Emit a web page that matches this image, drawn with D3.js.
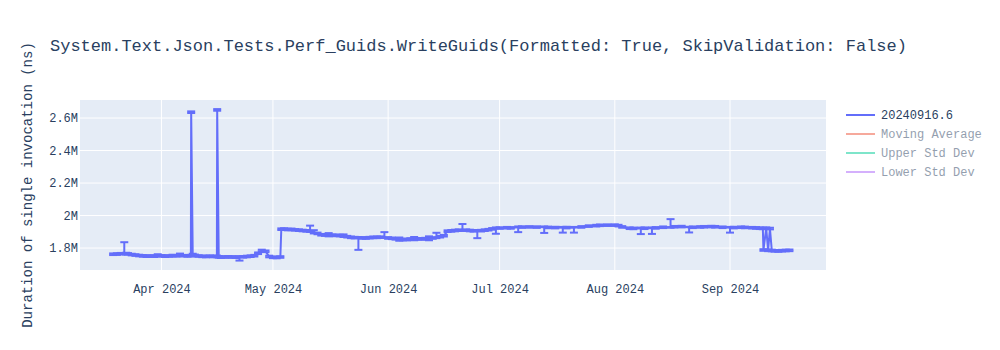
<!DOCTYPE html>
<html lang=en>
<head>
<meta charset="utf-8">
<script src="https://d3js.org/d3.v7.min.js"></script>
<style>
  body { margin: 0; background: #fff; }
  #chart { width: 1000px; height: 350px; }
  text { font-family: "Courier New", "Nimbus Mono PS", FreeMono, "Liberation Mono", monospace; fill: #2a3f5f; }
</style>
</head>
<body>
<div id="chart"></div>
<script>
// build dates, one run per entry
var runDates = [
  "2024-03-19","2024-03-20","2024-03-21","2024-03-22","2024-03-22T12:00","2024-03-23","2024-03-24","2024-03-25","2024-03-26","2024-03-27",
  "2024-03-28","2024-03-29","2024-03-30","2024-03-31","2024-04-01","2024-04-02","2024-04-03","2024-04-04","2024-04-05","2024-04-06",
  "2024-04-07","2024-04-08","2024-04-08T22:00","2024-04-09T00:00","2024-04-09T10:00","2024-04-10","2024-04-11","2024-04-12","2024-04-13","2024-04-14",
  "2024-04-15","2024-04-15T22:00","2024-04-16T00:00","2024-04-16T10:00","2024-04-17","2024-04-18","2024-04-19","2024-04-20","2024-04-21","2024-04-22",
  "2024-04-23","2024-04-24","2024-04-25","2024-04-26","2024-04-27","2024-04-28","2024-04-29","2024-04-30","2024-05-01","2024-05-02",
  "2024-05-03T00:00","2024-05-03T06:00","2024-05-04","2024-05-05","2024-05-06","2024-05-07","2024-05-08","2024-05-09","2024-05-10","2024-05-11",
  "2024-05-12","2024-05-13","2024-05-14","2024-05-15","2024-05-16","2024-05-17","2024-05-18","2024-05-19","2024-05-20","2024-05-21",
  "2024-05-22","2024-05-23","2024-05-24","2024-05-25","2024-05-26","2024-05-27","2024-05-28","2024-05-29","2024-05-30","2024-05-31",
  "2024-06-01","2024-06-02","2024-06-03","2024-06-04","2024-06-05","2024-06-06","2024-06-07","2024-06-08","2024-06-09","2024-06-10",
  "2024-06-11","2024-06-12","2024-06-13","2024-06-14","2024-06-15","2024-06-16","2024-06-17","2024-06-18","2024-06-19","2024-06-20",
  "2024-06-21","2024-06-22","2024-06-23","2024-06-24","2024-06-25","2024-06-26","2024-06-27","2024-06-28","2024-06-29","2024-06-30",
  "2024-07-01","2024-07-03","2024-07-04","2024-07-06","2024-07-07","2024-07-09","2024-07-11","2024-07-13","2024-07-14","2024-07-16",
  "2024-07-18","2024-07-19","2024-07-21","2024-07-23","2024-07-25","2024-07-27","2024-07-28","2024-07-30","2024-08-01","2024-08-02",
  "2024-08-03","2024-08-05","2024-08-06","2024-08-08","2024-08-09","2024-08-11","2024-08-12","2024-08-14","2024-08-16","2024-08-17",
  "2024-08-19","2024-08-21","2024-08-22","2024-08-24","2024-08-25","2024-08-27","2024-08-28","2024-08-30","2024-09-01","2024-09-02",
  "2024-09-04","2024-09-05","2024-09-07","2024-09-08","2024-09-09","2024-09-09T20:00","2024-09-10T00:00","2024-09-10T18:00","2024-09-11T06:00","2024-09-11T18:00",
  "2024-09-12T06:00","2024-09-13","2024-09-14","2024-09-15","2024-09-16","2024-09-17"
];
// mean duration, thousands of ns
var durations = [
  1762,1763,1765,1772,1766,1764,1760,1757,1754,1752,
  1750,1751,1750,1754,1752,1750,1751,1754,1752,1756,
  1753,1752,1753,2636,1760,1755,1751,1749,1748,1750,
  1748,1749,2650,1746,1744,1745,1746,1745,1744,1745,
  1746,1748,1750,1753,1768,1785,1780,1748,1743,1742,
  1745,1916,1917,1914,1915,1912,1910,1908,1906,1904,
  1900,1890,1882,1880,1882,1879,1878,1877,1876,1870,
  1866,1864,1863,1862,1862,1864,1866,1866,1867,1868,
  1862,1860,1857,1855,1853,1852,1856,1858,1857,1856,
  1858,1860,1862,1866,1870,1876,1904,1906,1908,1910,
  1912,1910,1908,1906,1905,1907,1910,1913,1918,1922,
  1923,1925,1924,1928,1929,1930,1929,1928,1927,1926,
  1925,1926,1925,1930,1935,1938,1940,1941,1941,1938,
  1930,1922,1921,1921,1922,1922,1924,1928,1930,1931,
  1932,1926,1928,1930,1931,1932,1931,1928,1925,1926,
  1928,1927,1925,1924,1922,1921,1788,1922,1786,1920,
  1785,1783,1782,1784,1785,1786
];
// error bar extents, thousands of ns
var errPlus = [
  5,5,5,64,5,5,5,5,5,5,
  5,5,5,8,5,5,5,5,5,10,
  5,5,5,5,5,5,5,5,5,5,
  5,5,5,5,5,5,5,5,5,5,
  5,5,5,5,5,5,5,5,5,5,
  5,5,5,5,5,5,5,5,5,34,
  10,5,5,5,10,5,5,5,8,5,
  5,5,5,5,5,5,5,5,5,30,
  5,5,5,10,5,5,5,10,5,5,
  5,12,5,28,5,5,5,5,5,5,
  36,5,5,5,5,5,5,5,5,5,
  5,5,5,5,5,5,5,5,5,5,
  5,5,5,5,5,5,5,5,5,5,
  5,5,5,5,5,5,5,5,48,5,
  5,5,5,5,5,5,5,5,5,5,
  5,5,5,5,5,5,5,5,5,5,
  5,5,5,5,5,5
];
var errMinus = [
  5,5,5,4,5,5,5,5,5,5,
  5,5,5,5,5,5,5,5,5,5,
  5,5,5,5,5,5,5,5,5,5,
  5,5,5,5,5,5,5,5,5,22,
  5,5,5,5,5,5,5,5,5,5,
  5,5,5,5,5,5,5,5,5,5,
  10,5,5,5,10,5,5,5,8,5,
  5,5,74,5,5,5,5,5,5,5,
  5,5,5,10,5,5,5,10,5,5,
  5,12,5,5,5,5,5,5,5,5,
  5,5,5,5,44,5,5,5,5,34,
  5,5,5,30,5,5,5,35,5,5,
  30,5,30,5,5,5,5,5,5,5,
  5,5,5,35,5,35,5,5,5,5,
  5,30,5,5,5,5,5,5,30,5,
  5,5,5,5,5,5,5,5,5,5,
  5,5,5,5,5,5
];
var yTicks = [1800000, 2000000, 2200000, 2400000, 2600000];
var legendNames = ["20240916.6", "Moving Average", "Upper Std Dev", "Lower Std Dev"];
var legendColors = ["#636efa", "#EF553B", "#00cc96", "#ab63fa"];

(function() {
  var width = 1000, height = 350;
  var margin = {top: 100, right: 174, bottom: 80, left: 80};
  var pw = width - margin.left - margin.right,
      ph = height - margin.top - margin.bottom;

  var parse = d3.isoParse;
  var data = runDates.map(function(d, i) {
    var v = durations[i] * 1000;
    return {date: parse(d), v: v, hi: v + errPlus[i] * 1000, lo: v - errMinus[i] * 1000};
  });

  var svg = d3.select("#chart").append("svg")
      .attr("width", width)
      .attr("height", height);

  var x = d3.scaleTime()
      .domain([parse("2024-03-10T02:00"), parse("2024-09-26T20:00")])
      .range([0, pw]);
  var y = d3.scaleLinear()
      .domain([1665000, 2711000])
      .range([ph, 0]);

  // title
  svg.append("text")
      .attr("x", 50)
      .attr("y", 51)
      .attr("font-size", 17)
      .text("System.Text.Json.Tests.Perf_Guids.WriteGuids(Formatted: True, SkipValidation: False)");

  var g = svg.append("g").attr("transform", "translate(" + margin.left + "," + margin.top + ")");

  g.append("rect")
      .attr("width", pw)
      .attr("height", ph)
      .attr("fill", "#E5ECF6");

  // grid lines
  g.append("g")
      .selectAll("line")
      .data(yTicks)
      .enter().append("line")
      .attr("x1", 0).attr("x2", pw)
      .attr("y1", function(d) { return y(d); })
      .attr("y2", function(d) { return y(d); })
      .attr("stroke", "#fff");
  var months = x.ticks(d3.timeMonth.every(1)).filter(function(d) { return d > x.domain()[0]; });
  g.append("g")
      .selectAll("line")
      .data(months)
      .enter().append("line")
      .attr("x1", function(d) { return x(d); })
      .attr("x2", function(d) { return x(d); })
      .attr("y1", 0).attr("y2", ph)
      .attr("stroke", "#fff");

  // axes
  var yAxis = g.append("g")
      .call(d3.axisLeft(y).tickValues(yTicks).tickSize(0).tickPadding(2).tickFormat(d3.format(".2~s")));
  yAxis.select(".domain").remove();
  yAxis.selectAll("text").attr("font-size", 12).attr("font-family", null).attr("fill", "#2a3f5f");

  var xAxis = g.append("g")
      .attr("transform", "translate(0," + ph + ")")
      .call(d3.axisBottom(x).tickValues(months).tickSize(0).tickPadding(14).tickFormat(d3.timeFormat("%b %Y")));
  xAxis.select(".domain").remove();
  xAxis.selectAll("text").attr("font-size", 12).attr("font-family", null).attr("fill", "#2a3f5f");

  svg.append("text")
      .attr("transform", "translate(32," + (margin.top + ph / 2) + ") rotate(-90)")
      .attr("text-anchor", "middle")
      .attr("font-size", 14)
      .text("Duration of single invocation (ns)");

  // series
  svg.append("clipPath").attr("id", "clip")
    .append("rect").attr("width", pw).attr("height", ph);
  var plot = g.append("g").attr("clip-path", "url(#clip)");

  var line = d3.line()
      .x(function(d) { return x(d.date); })
      .y(function(d) { return y(d.v); });
  plot.append("path")
      .datum(data)
      .attr("fill", "none")
      .attr("stroke", "#636efa")
      .attr("stroke-width", 2)
      .attr("stroke-linejoin", "round")
      .attr("d", line);

  var err = plot.append("g")
      .attr("stroke", "#636efa")
      .attr("stroke-width", 2)
    .selectAll("g")
    .data(data)
    .enter().append("g");
  err.append("line")
      .attr("x1", function(d) { return x(d.date); })
      .attr("x2", function(d) { return x(d.date); })
      .attr("y1", function(d) { return y(d.lo); })
      .attr("y2", function(d) { return y(d.hi); });
  err.append("line")
      .attr("x1", function(d) { return x(d.date) - 4; })
      .attr("x2", function(d) { return x(d.date) + 4; })
      .attr("y1", function(d) { return y(d.hi); })
      .attr("y2", function(d) { return y(d.hi); });
  err.append("line")
      .attr("x1", function(d) { return x(d.date) - 4; })
      .attr("x2", function(d) { return x(d.date) + 4; })
      .attr("y1", function(d) { return y(d.lo); })
      .attr("y2", function(d) { return y(d.lo); });

  // legend
  var legend = svg.append("g")
    .selectAll("g")
    .data(legendNames)
    .enter().append("g")
      .attr("transform", function(d, i) { return "translate(846," + (115 + i * 19) + ")"; })
      .attr("opacity", function(d, i) { return i === 0 ? 1 : 0.5; });
  legend.append("line")
      .attr("x1", 0).attr("x2", 29)
      .attr("stroke", function(d, i) { return legendColors[i]; })
      .attr("stroke-width", 2);
  legend.append("text")
      .attr("x", 35)
      .attr("dy", "0.35em")
      .attr("font-size", 12)
      .text(function(d) { return d; });
})();
</script>
</body>
</html>
